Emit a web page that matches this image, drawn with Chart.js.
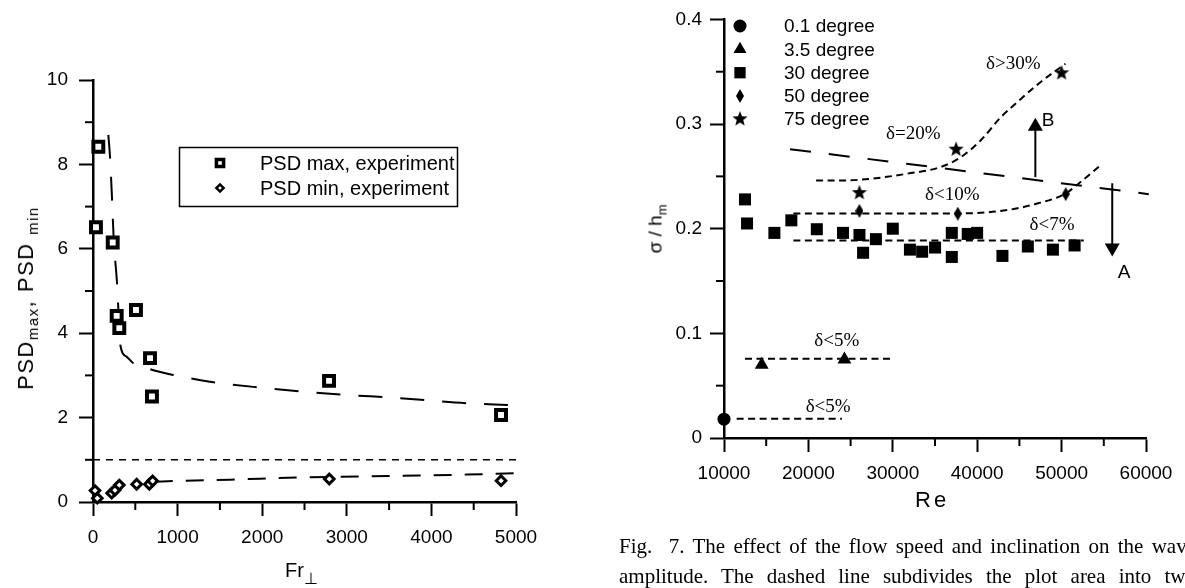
<!DOCTYPE html>
<html>
<head>
<meta charset="utf-8">
<script src="https://cdn.jsdelivr.net/npm/chart.js@4.4.1/dist/chart.umd.min.js"></script>
<style>
  html, body { margin: 0; padding: 0; background: #fff; }
  body { width: 1185px; height: 588px; overflow: hidden; position: relative; font-family: "Liberation Sans", Arial, sans-serif; color: #000; }
  canvas { position: absolute; top: 0; }
  #psdChart { left: 0; }
  #sigmaChart { left: 580px; }
  .axis-title { position: absolute; white-space: nowrap; line-height: 1; }
  .rot { transform: translate(-50%, -50%) rotate(-90deg); }
  sub { font-size: 68%; vertical-align: baseline; position: relative; top: 0.35em; }
  .perp { font-size: 80%; top: 0.45em; }
  .cap { position: absolute; left: 619px; width: 577px; font: 21px "Liberation Serif", "Times New Roman", serif; line-height: 30px; text-align: justify; text-align-last: justify; }
</style>
</head>
<body>
<canvas id="psdChart" width="580" height="588"></canvas>
<canvas id="sigmaChart" width="605" height="588"></canvas>

<div class="axis-title rot" style="left:26px; top:298px; font-size:22px; letter-spacing:1.5px;">PSD<sub>max</sub>, PSD <sub>min</sub></div>
<div class="axis-title" style="left:285px; top:560px; font-size:20px;">Fr<sub class="perp">⊥</sub></div>
<div class="axis-title rot" style="left:655px; top:229px; font-size:19px;">σ / h<sub>m</sub></div>
<div class="axis-title" style="left:915px; top:489px; font-size:22px; letter-spacing:3px;">Re</div>

<div class="cap" style="top:531px;">Fig.&nbsp; 7. The effect of the flow speed and inclination on the wave</div>
<div class="cap" style="top:561px;">amplitude. The dashed line subdivides the plot area into two</div>

<script>
const black = "#000";

// ---- PSD vs Fr (left plot) ----
const psdMaxFr = [63, 35, 233, 280, 311, 508, 674, 697, 2790, 4823];
const psdMaxVal = [8.42, 6.51, 6.15, 4.41, 4.12, 4.55, 3.41, 2.5, 2.87, 2.06];
const psdMinFr = [24, 51, 221, 260, 311, 516, 666, 705, 2793, 4823];
const psdMinVal = [0.27, 0.09, 0.21, 0.28, 0.4, 0.42, 0.42, 0.5, 0.545, 0.505];

// fitted curves
const fitMaxFr = [181, 201, 225, 245, 284, 296, 323, 400, 469, 686, 949, 1383, 1935, 2840, 3629, 4417, 4905];
const fitMaxVal = [8.7, 8.18, 7.18, 6.21, 5.19, 4.72, 3.72, 3.44, 3.3, 3.14, 3.01, 2.85, 2.72, 2.56, 2.46, 2.34, 2.3];
const fitMinFr = [730, 1000, 1620, 2450, 3630, 4420, 5080];
const fitMinVal = [0.48, 0.5, 0.53, 0.58, 0.62, 0.65, 0.69];
const unityFr = [0, 5035];
const unityVal = [1, 1];

const psdLabels = ["PSD max, experiment", "PSD min, experiment"];

// ---- sigma/h vs Re (right plot) ----
const reCircle = [10000];
const sigCircle = [0.018];
const reTriangle = [14470, 24270];
const sigTriangle = [0.07, 0.075];
const reSquare = [12490, 12730, 15970, 17980, 21000, 24100, 26050, 26480, 28000, 30000, 32030, 33480, 35010, 36990, 36990, 38880, 39990, 42990, 46000, 48970, 51540];
const sigSquare = [0.228, 0.205, 0.196, 0.208, 0.1995, 0.196, 0.194, 0.177, 0.19, 0.2, 0.18, 0.178, 0.182, 0.196, 0.173, 0.195, 0.196, 0.174, 0.183, 0.18, 0.184];
const reDiamond = [26040, 37700, 50490];
const sigDiamond = [0.217, 0.2143, 0.233];
const reStar = [26040, 37500, 50000];
const sigStar = [0.235, 0.2765, 0.3494];

// dashed guide lines
const reDivide = [17830, 60330];
const sigDivide = [0.276, 0.233];
const reTrend75 = [20910, 23760, 27320, 31670, 35620, 37990, 40370, 42740, 45110, 47490, 50450];
const sigTrend75 = [0.246, 0.246, 0.2477, 0.2525, 0.2588, 0.268, 0.284, 0.306, 0.3235, 0.34, 0.3576];
const reTrend50 = [18220, 26050, 37730, 43540, 47100, 50450, 52240, 54600];
const sigTrend50 = [0.2146, 0.2146, 0.2146, 0.2178, 0.224, 0.2335, 0.2446, 0.2604];
const reTrend30 = [18220, 52620];
const sigTrend30 = [0.1887, 0.1887];
const reTrend35 = [12490, 30090];
const sigTrend35 = [0.0757, 0.0757];
const reTrend01 = [11500, 23960];
const sigTrend01 = [0.0183, 0.0183];

const sigmaLabels = ["0.1 degree", "3.5 degree", "30 degree", "50 degree", "75 degree"];

// text notes and arrows on the right plot
const noteText = ["δ>30%", "δ=20%", "δ<10%", "δ<7%", "δ<5%", "δ<5%"];
const noteRe = [44280, 32420, 37050, 48870, 23370, 22340];
const noteSig = [0.3573, 0.2903, 0.2326, 0.2036, 0.0931, 0.0299];
const arrowRe = [46890, 56000];
const arrowFrom = [0.2493, 0.2434];
const arrowTo = [0.306, 0.1735];
const arrowText = ["B", "A"];
const arrowTextRe = [48400, 57400];
const arrowTextSig = [0.3035, 0.1575];

function pts(xs, ys) {
  return xs.map((x, i) => ({ x: x, y: ys[i] }));
}

function isMultiple(v, step) {
  const q = v / step;
  return Math.abs(q - Math.round(q)) < 1e-6;
}

// custom marker images
function makeStar(r) {
  const s = Math.ceil(r * 2) + 2;
  const c = document.createElement("canvas");
  c.width = s;
  c.height = s;
  const g = c.getContext("2d");
  g.beginPath();
  for (let i = 0; i < 10; i++) {
    const a = -Math.PI / 2 + (i * Math.PI) / 5;
    const rr = i % 2 ? r * 0.42 : r;
    g.lineTo(s / 2 + rr * Math.cos(a), s / 2 + rr * Math.sin(a) + r * 0.1);
  }
  g.closePath();
  g.fillStyle = black;
  g.fill();
  return c;
}

function makeThinDiamond(w, h) {
  const c = document.createElement("canvas");
  c.width = w;
  c.height = h;
  const g = c.getContext("2d");
  g.beginPath();
  g.moveTo(w / 2, 0);
  g.lineTo(w, h / 2);
  g.lineTo(w / 2, h);
  g.lineTo(0, h / 2);
  g.closePath();
  g.fillStyle = black;
  g.fill();
  return c;
}

const starImg = makeStar(8);
const diamondImg = makeThinDiamond(8, 14);

// scale with major ticks drawn by Chart.js and minor ones by the plugin below
function axis(min, max, step, major, padding, fmt, fitKey, fitSize) {
  return {
    type: "linear",
    min: min,
    max: max,
    afterFit: (s) => {
      s[fitKey] = fitSize;
    },
    afterBuildTicks: (s) => {
      const ticks = [];
      for (let v = min; v <= max + step / 2; v += step) ticks.push({ value: +v.toFixed(6) });
      s.ticks = ticks;
    },
    border: { display: true, color: black, width: 2.5 },
    grid: {
      drawOnChartArea: false,
      drawTicks: true,
      tickLength: 14,
      tickWidth: 2,
      tickColor: (c) => (c.tick && isMultiple(c.tick.value, major) ? black : "rgba(0,0,0,0)"),
    },
    ticks: {
      color: black,
      padding: padding,
      maxRotation: 0,
      autoSkip: false,
      font: { family: "Liberation Sans", size: 19 },
      callback: (v) => (isMultiple(v, major) ? fmt(v) : ""),
    },
    minorLength: 8,
    majorStep: major,
  };
}

const minorTicks = {
  id: "minorTicks",
  afterDraw(chart) {
    const ctx = chart.ctx;
    ctx.save();
    ctx.strokeStyle = black;
    ctx.lineWidth = 2;
    Object.values(chart.scales).forEach((s) => {
      const len = s.options.minorLength;
      s.ticks.forEach((t) => {
        if (isMultiple(t.value, s.options.majorStep)) return;
        const p = s.getPixelForValue(t.value);
        ctx.beginPath();
        if (s.isHorizontal()) {
          ctx.moveTo(p, s.top);
          ctx.lineTo(p, s.top + len);
        } else {
          ctx.moveTo(s.right, p);
          ctx.lineTo(s.right - len, p);
        }
        ctx.stroke();
      });
    });
    ctx.restore();
  },
};

function dashed(data, dash, smooth) {
  return {
    data: data,
    showLine: true,
    pointRadius: 0,
    borderColor: black,
    borderWidth: 2,
    borderDash: dash,
    cubicInterpolationMode: smooth ? "monotone" : "default",
    fill: false,
    clip: false,
  };
}

// Legend box of the PSD plot
const psdLegend = {
  id: "psdLegend",
  afterDraw(chart) {
    const ctx = chart.ctx;
    ctx.save();
    ctx.strokeStyle = black;
    ctx.lineWidth = 1.5;
    ctx.strokeRect(179.5, 147.5, 278, 59);
    const styles = [
      { pointStyle: "rect", radius: 5.1, borderWidth: 3.5, rotation: 0 },
      { pointStyle: "rectRot", radius: 3.6, borderWidth: 2.5, rotation: 0 },
    ];
    const rows = [163, 188];
    ctx.font = "20px 'Liberation Sans'";
    ctx.textBaseline = "middle";
    psdLabels.forEach((lab, i) => {
      ctx.fillStyle = "#fff";
      ctx.strokeStyle = black;
      ctx.lineWidth = styles[i].borderWidth;
      Chart.helpers.drawPoint(ctx, styles[i], 220, rows[i]);
      ctx.fillStyle = black;
      ctx.fillText(lab, 260, rows[i] + 1);
    });
    ctx.restore();
  },
};

// PSD chart
const psdCtx = document.getElementById("psdChart").getContext("2d");
new Chart(psdCtx, {
  type: "scatter",
  data: {
    datasets: [
      {
        label: psdLabels[0],
        data: pts(psdMaxFr, psdMaxVal),
        pointStyle: "rect",
        pointRadius: 7,
        pointBorderWidth: 4,
        pointBorderColor: black,
        pointBackgroundColor: "#fff",
        clip: false,
      },
      {
        label: psdLabels[1],
        data: pts(psdMinFr, psdMinVal),
        pointStyle: "rectRot",
        pointRadius: 4.8,
        pointBorderWidth: 3,
        pointBorderColor: black,
        pointBackgroundColor: "#fff",
        clip: false,
      },
      dashed(pts(fitMaxFr, fitMaxVal), [24, 18], true),
      dashed(pts(fitMinFr, fitMinVal), [18, 13], true),
      Object.assign(dashed(pts(unityFr, unityVal), [7, 6], false), { borderWidth: 1.5 }),
    ],
  },
  options: {
    responsive: false,
    animation: false,
    events: [],
    layout: { padding: { left: 33, top: 80, right: 64, bottom: 36 } },
    scales: {
      x: axis(0, 5000, 500, 1000, 10, (v) => String(v), "height", 50),
      y: axis(0, 10, 1, 2, 11, (v) => String(v), "width", 60),
    },
    plugins: { legend: { display: false }, tooltip: { enabled: false } },
  },
  plugins: [minorTicks, psdLegend],
});

// Legend, notes and arrows of the sigma plot
const sigmaDecor = {
  id: "sigmaDecor",
  afterDraw(chart) {
    const ctx = chart.ctx;
    const xs = chart.scales.x;
    const ys = chart.scales.y;
    ctx.save();

    // legend list in the upper-left corner
    const rows = [26, 49.3, 72.7, 96, 118.3];
    ctx.font = "19px 'Liberation Sans'";
    ctx.textBaseline = "middle";
    chart.data.datasets.slice(0, 5).forEach((ds, i) => {
      ctx.fillStyle = black;
      ctx.strokeStyle = black;
      Chart.helpers.drawPoint(
        ctx,
        { pointStyle: ds.pointStyle, radius: ds.legendRadius, borderWidth: 0, rotation: 0 },
        740 - 580,
        rows[i]
      );
      ctx.fillText(sigmaLabels[i], 784 - 580, rows[i] + 1);
    });

    // delta notes
    ctx.font = "19px 'Liberation Serif'";
    ctx.textAlign = "center";
    noteText.forEach((t, i) => {
      ctx.fillText(t, xs.getPixelForValue(noteRe[i]), ys.getPixelForValue(noteSig[i]));
    });

    // arrows A and B
    ctx.lineWidth = 2;
    arrowRe.forEach((re, i) => {
      const x = xs.getPixelForValue(re);
      const y0 = ys.getPixelForValue(arrowFrom[i]);
      const y1 = ys.getPixelForValue(arrowTo[i]);
      const dir = y1 < y0 ? 1 : -1;
      ctx.beginPath();
      ctx.moveTo(x, y0);
      ctx.lineTo(x, y1 + dir * 10);
      ctx.stroke();
      ctx.beginPath();
      ctx.moveTo(x, y1);
      ctx.lineTo(x - 7.5, y1 + dir * 13);
      ctx.lineTo(x + 7.5, y1 + dir * 13);
      ctx.closePath();
      ctx.fill();
      ctx.font = "19px 'Liberation Sans'";
      ctx.fillText(arrowText[i], xs.getPixelForValue(arrowTextRe[i]), ys.getPixelForValue(arrowTextSig[i]));
    });
    ctx.restore();
  },
};

function solid(data, style, radius, legendRadius) {
  return {
    data: data,
    pointStyle: style,
    pointRadius: radius,
    pointBorderWidth: 0,
    pointBackgroundColor: black,
    pointBorderColor: black,
    legendRadius: legendRadius,
    clip: false,
  };
}

// sigma chart
const sigmaCtx = document.getElementById("sigmaChart").getContext("2d");
new Chart(sigmaCtx, {
  type: "scatter",
  data: {
    datasets: [
      solid(pts(reCircle, sigCircle), "circle", 6.5, 6.5),
      solid(pts(reTriangle, sigTriangle), "triangle", 8, 7.5),
      solid(pts(reSquare, sigSquare), "rect", 8.5, 8),
      solid(pts(reDiamond, sigDiamond), diamondImg, 7, 7),
      solid(pts(reStar, sigStar), starImg, 8, 8),
      dashed(pts(reDivide, sigDivide), [21, 18], false),
      dashed(pts(reTrend75, sigTrend75), [7, 4.5], true),
      dashed(pts(reTrend50, sigTrend50), [7, 4.5], true),
      dashed(pts(reTrend30, sigTrend30), [7, 4.5], false),
      dashed(pts(reTrend35, sigTrend35), [7, 4.5], false),
      dashed(pts(reTrend01, sigTrend01), [7, 4.5], false),
    ],
  },
  options: {
    responsive: false,
    animation: false,
    events: [],
    layout: { padding: { left: 84, top: 16, right: 39, bottom: 100 } },
    scales: {
      x: axis(10000, 60000, 5000, 10000, 10, (v) => String(v), "height", 50),
      y: axis(0, 0.4, 0.05, 0.1, 8, (v) => String(Math.round(v * 10) / 10), "width", 60),
    },
    plugins: { legend: { display: false }, tooltip: { enabled: false } },
  },
  plugins: [minorTicks, sigmaDecor],
});
</script>
</body>
</html>
